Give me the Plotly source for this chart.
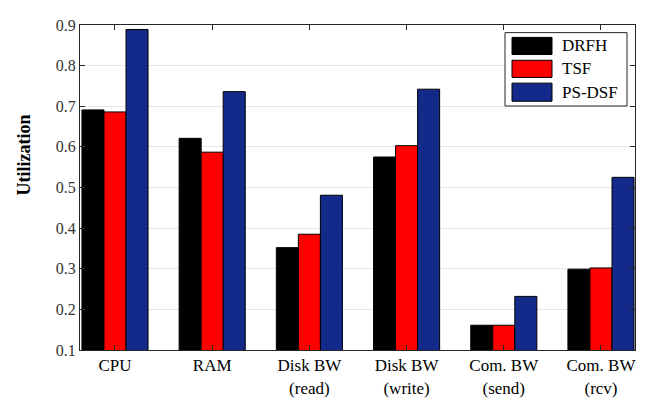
import plotly.graph_objects as go

categories = ["CPU", "RAM", "Disk BW<br>(read)", "Disk BW<br>(write)", "Com. BW<br>(send)", "Com. BW<br>(rcv)"]
series_names = ["DRFH", "TSF", "PS-DSF"]
drfh = [0.691, 0.621, 0.352, 0.575, 0.161, 0.299]
tsf = [0.686, 0.587, 0.385, 0.603, 0.161, 0.302]
psdsf = [0.889, 0.736, 0.481, 0.742, 0.232, 0.525]
colors = ["#000000", "#FF0000", "#142A8A"]
y_ticks = [0.1, 0.2, 0.3, 0.4, 0.5, 0.6, 0.7, 0.8, 0.9]

FONT = "Liberation Serif, Times New Roman, serif"
W, H = 649, 399
L, R, T, B = 72, 627, 9, 350

xs = list(range(1, len(categories) + 1))
fig = go.Figure()
for name, vals, c in zip(series_names, [drfh, tsf, psdsf], colors):
    fig.add_trace(go.Bar(x=xs, y=vals, name=name, marker=dict(color=c, line=dict(color="#000000", width=1)),
                         showlegend=False))

def px(x):
    return (x - L) / (R - L)

def py(y):
    return (B - y) / (B - T)

shapes = []
annotations = []
# legend box
shapes.append(dict(type="rect", xref="paper", yref="paper", x0=px(497), x1=px(619), y0=py(94), y1=py(17),
                   line=dict(color="#262626", width=1), fillcolor="white", layer="above"))
rows = [(22, 40), (46, 64), (70, 89)]
for (y0, y1), name, c in zip(rows, series_names, colors):
    shapes.append(dict(type="rect", xref="paper", yref="paper", x0=px(504), x1=px(544), y0=py(y1), y1=py(y0),
                       line=dict(color="#000000", width=1), fillcolor=c, layer="above"))
    annotations.append(dict(xref="paper", yref="paper", x=px(552), y=py((y0 + y1) / 2), text=name,
                            showarrow=False, xanchor="left", yanchor="middle",
                            font=dict(family=FONT, size=17, color="#000000")))

annotations.append(dict(xref="paper", yref="paper", x=px(16), y=py(146), text="<b>Utilization</b>",
                        textangle=-90, showarrow=False, xanchor="center", yanchor="middle",
                        font=dict(family=FONT, size=18, color="#000000")))

fig.update_layout(
    width=W, height=H,
    margin=dict(l=L, r=W - R, t=T, b=H - B),
    plot_bgcolor="white", paper_bgcolor="white",
    barmode="group", bargap=0.32, bargroupgap=0,
    shapes=shapes, annotations=annotations,
    font=dict(family=FONT, color="#262626"),
)
fig.update_xaxes(range=[0.64, 6.35], tickvals=xs, ticktext=categories, showgrid=False,
                 showline=True, linecolor="#262626", linewidth=1, mirror="ticks",
                 ticks="inside", ticklen=5, tickcolor="#262626",
                 tickfont=dict(family=FONT, size=17, color="#000000"))
fig.update_yaxes(range=[0.1, 0.9], tickvals=y_ticks, ticktext=[f"{v:.1f}" for v in y_ticks],
                 showgrid=True, gridcolor="#E6E6E6", gridwidth=1, zeroline=False,
                 showline=True, linecolor="#262626", linewidth=1, mirror="ticks",
                 ticks="inside", ticklen=5, tickcolor="#262626",
                 tickfont=dict(family=FONT, size=16, color="#333333"))

fig.write_html("out.html")
